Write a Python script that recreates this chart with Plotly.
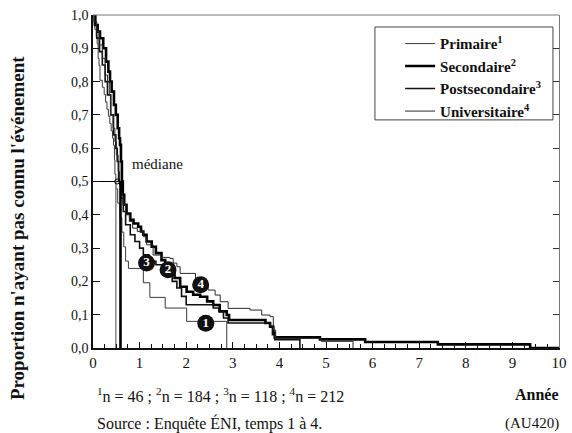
import plotly.graph_objects as go

# Kaplan-Meier survival estimates by level of schooling (time in years)
primaire_t = [0, 0.02, 0.04, 0.07, 0.09, 0.11, 0.13, 0.15, 0.20, 0.24, 0.27, 0.30, 0.33, 0.36,
              0.39, 0.42, 0.44, 0.46, 0.47, 0.49, 0.53, 0.58, 0.62, 0.66, 0.70, 0.76, 1.08,
              1.22, 1.55, 2.01, 2.87]
primaire_s = [1.0, 0.978, 0.957, 0.935, 0.913, 0.870, 0.848, 0.804, 0.783, 0.761, 0.739, 0.717,
              0.696, 0.674, 0.652, 0.630, 0.609, 0.565, 0.522, 0.478, 0.435, 0.391, 0.348,
              0.304, 0.261, 0.239, 0.196, 0.152, 0.120, 0.080, 0.0]

secondaire_t = [0, 0.05, 0.10, 0.15, 0.22, 0.28, 0.33, 0.365, 0.40, 0.45, 0.49, 0.53, 0.56,
                0.58, 0.60, 0.62, 0.64, 0.67, 0.72, 0.80, 0.87, 0.97, 1.03, 1.08, 1.15, 1.26,
                1.35, 1.47, 1.55, 1.65, 1.75, 1.87, 2.01, 2.15, 2.30, 2.45, 2.58, 2.72, 2.87,
                2.92, 3.58, 3.70, 3.80, 3.87, 3.90, 4.87, 5.84, 7.40, 9.38, 10.0]
secondaire_s = [1.0, 0.97, 0.95, 0.93, 0.90, 0.86, 0.83, 0.80, 0.77, 0.73, 0.70, 0.66, 0.63,
                0.61, 0.56, 0.50, 0.46, 0.43, 0.404, 0.385, 0.374, 0.364, 0.35, 0.34, 0.32,
                0.304, 0.285, 0.264, 0.25, 0.234, 0.21, 0.184, 0.169, 0.16, 0.154, 0.14, 0.129,
                0.11, 0.099, 0.084, 0.084, 0.075, 0.064, 0.045, 0.032, 0.026, 0.018, 0.011,
                0.0, 0.0]

postsec_t = [0, 0.03, 0.08, 0.14, 0.20, 0.26, 0.31, 0.38, 0.44, 0.49, 0.52, 0.55, 0.60, 0.65,
             0.70, 0.80, 0.90, 1.00, 1.08, 1.20, 1.35, 1.50, 1.60, 1.70, 1.80, 1.90, 2.00, 2.58,
             2.70, 2.80, 2.90, 3.80, 3.85, 3.90, 4.44]
postsec_s = [1.0, 0.97, 0.93, 0.89, 0.85, 0.80, 0.76, 0.70, 0.64, 0.60, 0.56, 0.50, 0.45, 0.41,
             0.37, 0.34, 0.32, 0.30, 0.28, 0.26, 0.25, 0.24, 0.22, 0.20, 0.18, 0.155, 0.13,
             0.12, 0.11, 0.09, 0.075, 0.065, 0.04, 0.025, 0.0]

univ_t = [0, 0.03, 0.08, 0.13, 0.20, 0.26, 0.31, 0.35, 0.38, 0.43, 0.47, 0.50, 0.54, 0.57,
          0.60, 0.64, 0.70, 0.78, 0.85, 0.95, 1.08, 1.15, 1.29, 1.45, 1.65, 1.72, 1.80, 1.87,
          2.12, 2.20, 2.30, 2.47, 2.62, 2.73, 2.90, 3.37, 3.62, 3.80, 3.87, 3.92, 4.90, 5.58]
univ_s = [1.0, 0.98, 0.95, 0.91, 0.87, 0.82, 0.80, 0.76, 0.70, 0.66, 0.62, 0.58, 0.53, 0.49,
          0.46, 0.43, 0.40, 0.38, 0.36, 0.35, 0.334, 0.31, 0.279, 0.272, 0.269, 0.255, 0.244,
          0.224, 0.224, 0.21, 0.195, 0.174, 0.159, 0.139, 0.119, 0.114, 0.099, 0.094, 0.054,
          0.029, 0.02, 0.0]

series_names = ["Primaire<sup>1</sup>", "Secondaire<sup>2</sup>",
                "Postsecondaire<sup>3</sup>", "Universitaire<sup>4</sup>"]

# medians read where the curves cross 0.5
median_level = 0.5
median_times = [0.49, 0.59]

# numbered curve badges: (x, y, label)
badge_x = [2.42, 1.61, 1.15, 2.31]
badge_y = [0.074, 0.235, 0.255, 0.19]
badge_text = ["1", "2", "3", "4"]

footnote = "<sup>1</sup>n = 46 ; <sup>2</sup>n = 184 ; <sup>3</sup>n = 118 ; <sup>4</sup>n = 212"
source = "Source : Enquête ÉNI, temps 1 à 4."

SERIF = "Liberation Serif, Times New Roman, serif"

fig = go.Figure()

styles = [
    dict(color="#3a3a3a", width=1.0),
    dict(color="#000000", width=2.6),
    dict(color="#111111", width=1.6),
    dict(color="#2a2a2a", width=1.0),
]
for name, t, s, st in zip(series_names,
                          [primaire_t, secondaire_t, postsec_t, univ_t],
                          [primaire_s, secondaire_s, postsec_s, univ_s],
                          styles):
    fig.add_trace(go.Scatter(x=t, y=s, mode="lines", name=name,
                             line=dict(shape="hv", **st)))

# median guide lines
fig.add_trace(go.Scatter(x=[0, max(median_times)], y=[median_level, median_level],
                         mode="lines", line=dict(color="#000", width=1), showlegend=False))
fig.add_trace(go.Scatter(x=[median_times[0], median_times[0]], y=[0, median_level],
                         mode="lines", line=dict(color="#888", width=1.5), showlegend=False))
fig.add_trace(go.Scatter(x=[median_times[1], median_times[1]], y=[0, median_level],
                         mode="lines", line=dict(color="#000", width=2.6), showlegend=False))
fig.add_trace(go.Scatter(x=[0.52], y=[median_level], mode="markers",
                         marker=dict(symbol="circle-open", size=5, color="#000",
                                     line=dict(width=1)), showlegend=False))

fig.add_trace(go.Scatter(x=badge_x, y=badge_y, mode="markers+text", text=badge_text,
                         textposition="middle center",
                         textfont=dict(family=SERIF, size=13, color="white", weight="bold"),
                         marker=dict(size=17, color="#111"), showlegend=False))

# right-hand frame with inward ticks
fig.add_trace(go.Scatter(x=[None], y=[None], yaxis="y2", showlegend=False))

fig.update_layout(
    width=572, height=433,
    margin=dict(l=93, r=13, t=15, b=85),
    paper_bgcolor="white", plot_bgcolor="white",
    separators=",.",
    font=dict(family=SERIF, size=14, color="#111"),
    showlegend=True,
    legend=dict(x=0.659, y=0.963, xanchor="left", yanchor="top",
                borderwidth=0, bgcolor="rgba(0,0,0,0)",
                font=dict(family=SERIF, size=15, color="#111", weight="bold"),
                itemwidth=30, tracegroupgap=0),
    xaxis=dict(range=[0, 10], tickmode="linear", tick0=0, dtick=1, automargin=False,
               ticks="inside", ticklen=6, tickcolor="#111", showgrid=False,
               zeroline=False, showline=True, linecolor="#111", linewidth=1.5,
               tickfont=dict(family=SERIF, size=15),
               minor=dict(dtick=0.25, ticks="inside", ticklen=4, tickcolor="#111")),
    yaxis=dict(range=[0, 1.0], tickmode="linear", tick0=0, dtick=0.1, tickformat=".1f",
               ticks="inside", ticklen=7, tickcolor="#111", showgrid=False, automargin=False,
               zeroline=False, showline=True, linecolor="#111", linewidth=1.5,
               tickfont=dict(family=SERIF, size=14)),
    yaxis2=dict(range=[0, 1.0], overlaying="y", side="right", tickmode="linear",
                tick0=0, dtick=0.1, ticks="inside", ticklen=6, tickcolor="#333",
                showticklabels=False, showgrid=False, zeroline=False, automargin=False,
                showline=True, linecolor="#777", linewidth=1),
    shapes=[
        dict(type="line", xref="paper", yref="paper", x0=0, x1=1, y0=1, y1=1,
             line=dict(color="#777", width=1)),
        # legend frame
        dict(type="rect", xref="paper", yref="paper", x0=0.605, x1=0.987, y0=0.685,
             y1=0.964, line=dict(color="#444", width=1), fillcolor="rgba(0,0,0,0)"),
    ],
    annotations=[
        dict(x=0, y=0.36, xref="paper", yref="paper", xshift=-76, textangle=-90,
             text="<b>Proportion n'ayant pas connu l'événement</b>", showarrow=False,
             xanchor="center", yanchor="middle", font=dict(family=SERIF, size=19)),
        dict(x=0.8, y=0.5, xref="x", yref="y", text="médiane", showarrow=False,
             xanchor="left", yanchor="bottom", yshift=8,
             font=dict(family=SERIF, size=15)),
        dict(x=0.0, y=-0.14, xref="paper", yref="paper", text=footnote, showarrow=False,
             xanchor="left", yanchor="middle", xshift=2, font=dict(family=SERIF, size=16)),
        dict(x=1.0, y=-0.14, xref="paper", yref="paper", text="<b>Année</b>",
             showarrow=False, xanchor="right", yanchor="middle", xshift=2,
             font=dict(family=SERIF, size=16)),
        dict(x=0.0, y=-0.228, xref="paper", yref="paper", text=source, showarrow=False,
             xanchor="left", yanchor="middle", xshift=2, font=dict(family=SERIF, size=16)),
        dict(x=1.0, y=-0.228, xref="paper", yref="paper", text="(AU420)", showarrow=False,
             xanchor="right", yanchor="middle", xshift=2, font=dict(family=SERIF, size=15)),
    ],
)

fig.write_html("out.html")
